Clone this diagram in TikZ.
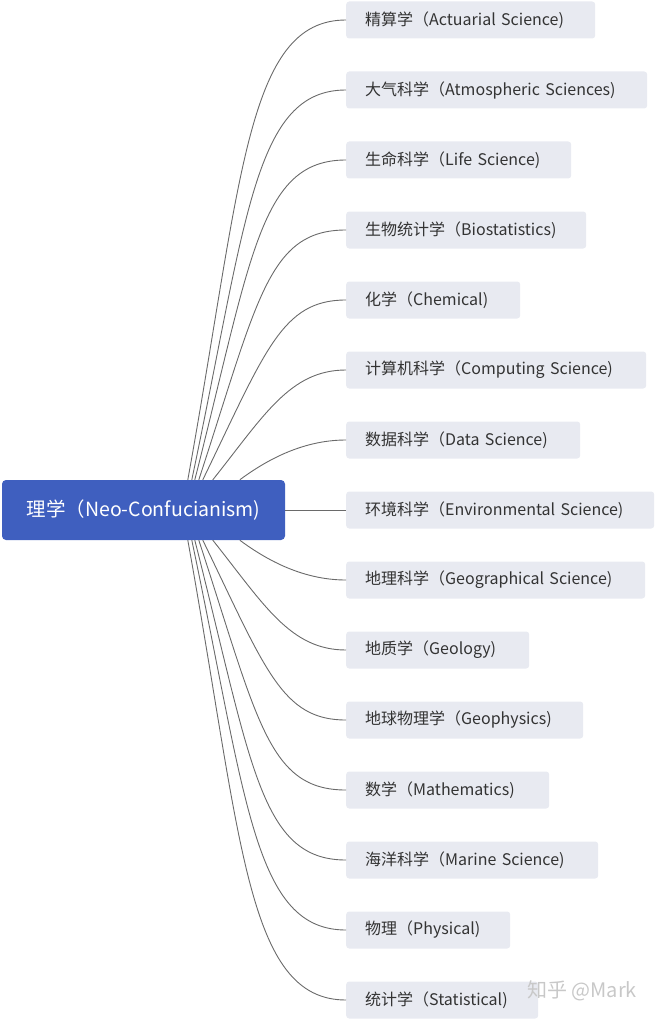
\documentclass[tikz,border=0pt]{standalone}
\usepackage{fontspec}
\setmainfont{Noto Sans CJK SC}
\definecolor{rootblue}{HTML}{3F5FBF}
\definecolor{leaffill}{HTML}{E8EAF1}
\definecolor{leaftext}{HTML}{333333}
\definecolor{linkgray}{HTML}{6A6A6A}
\definecolor{markgray}{HTML}{C8C8C8}
\begin{document}
\begin{tikzpicture}[x=1pt,y=-1pt,
  rootbox/.style={fill=rootblue, rounded corners=4pt, text=white,
    minimum width=283pt, minimum height=60pt, inner sep=0pt,
    font=\fontsize{19.5}{23}\selectfont},
  leafbox/.style={fill=leaffill, rounded corners=3pt, text=leaftext,
    anchor=west, minimum height=37pt, inner xsep=19pt, inner ysep=0pt,
    align=left, font=\fontsize{16}{19}\selectfont},
  link/.style={draw=linkgray, line width=0.9pt},
  wmark/.style={text=markgray, anchor=west, inner sep=0pt,
    font=\fontsize{20}{24}\selectfont}
]
\useasboundingbox (0,0) rectangle (654,1019);

\node[rootbox] (root) at (143.5,510) {\raisebox{-1pt}{理学（Neo-Confucianism)}};

\foreach \n/\y/\tw/\t in {
  1/20/211/{精算学（Actuarial Science)},
  2/90/263/{大气科学（Atmospheric Sciences)},
  3/160/187/{生命科学（Life Science)},
  4/230/202/{生物统计学（Biostatistics)},
  5/300/136/{化学（Chemical)},
  6/370/262/{计算机科学（Computing Science)},
  7/440/196/{数据科学（Data Science)},
  8/510/270/{环境科学（Environmental Science)},
  9/580/261/{地理科学（Geographical Science)},
  10/650/145/{地质学（Geology)},
  11/720/199/{地球物理学（Geophysics)},
  12/790/165/{数学（Mathematics)},
  13/860/214/{海洋科学（Marine Science)},
  14/930/126/{物理（Physical)},
  15/1000/154/{统计学（Statistical)}}
  \node[leafbox, text width=\tw pt] (l\n) at (346,\y) {\raisebox{-1.2pt}{\t}};

% upper and lower curved connectors
\foreach \up/\lo/\xs/\dx/\dy/\s in {
  1/15/188/54/299/100,
  2/14/192/55/261/92,
  3/13/195/57/224/86,
  4/12/199/59/180/78,
  5/11/203/63/130/64,
  6/10/213/51/64/56,
  7/9/240/23/17/46}{
  \draw[link] (root.north west) ++(\xs-2,0)
    .. controls +(\dx,-\dy) and +(-\s,0) .. (l\up.west);
  \draw[link] (root.south west) ++(\xs-2,0)
    .. controls +(\dx,\dy) and +(-\s,0) .. (l\lo.west);
}
\draw[link] (root.east) -- (l8.west);

\node[wmark] (wm) at (527,991) {知乎 @Mark};
\end{tikzpicture}
\end{document}
